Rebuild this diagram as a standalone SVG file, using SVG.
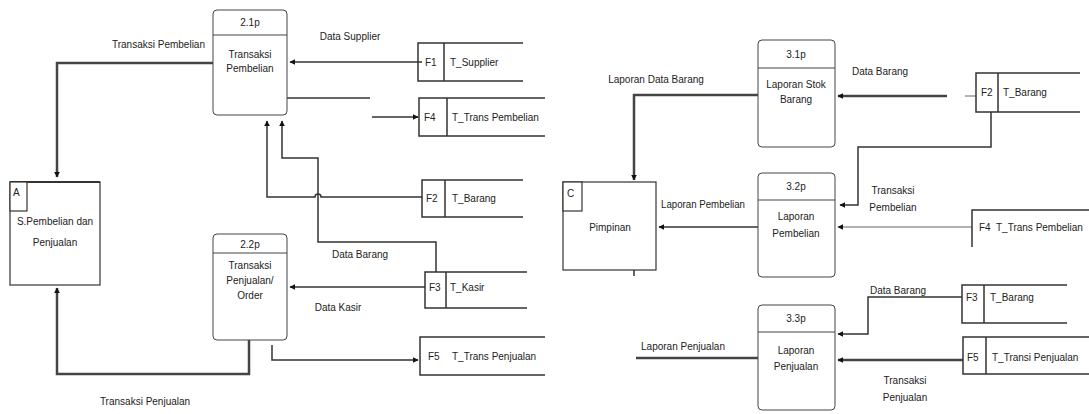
<svg xmlns="http://www.w3.org/2000/svg" width="1089" height="414" viewBox="0 0 1089 414">
<style>
text{font-family:"Liberation Sans",Arial,sans-serif;font-size:10px;fill:#222}
.m{text-anchor:middle}
.e{text-anchor:end}
.proc{fill:#fff;stroke:#444;stroke-width:1}
.hdr{stroke:#444;stroke-width:1.2}
.ent{fill:#fff;stroke:#333;stroke-width:1.2}
.st{stroke:#333;stroke-width:1.5;fill:none}
.c{fill:none;stroke:#333;stroke-width:1.5}
.ct{fill:none;stroke:#444;stroke-width:2.5}
.cf{fill:none;stroke:#666;stroke-width:1}
</style>
<defs>
<marker id="ah" viewBox="0 0 10 10" refX="9" refY="5" markerWidth="6" markerHeight="6" orient="auto" markerUnits="userSpaceOnUse">
<path d="M0,0L10,5L0,10z" fill="#111"/>
</marker>
</defs>

<g id="connectors">
<!-- left diagram -->
<path class="ct" d="M213,63H57V177" marker-end="url(#ah)"/>
<path class="c" d="M422,62H290" marker-end="url(#ah)"/>
<path class="c" d="M287,98H370"/>
<path class="c" d="M372,117H418" marker-end="url(#ah)"/>
<path class="c" d="M422,197H321A3,3 0 0 0 315,197H267V121" marker-end="url(#ah)"/>
<path class="c" d="M436,272V242H318V158H282V121" marker-end="url(#ah)"/>
<path class="c" d="M425,287H290" marker-end="url(#ah)"/>
<path class="ct" d="M249,340V374H57V288" marker-end="url(#ah)"/>
<path class="c" d="M272,345V360H418" marker-end="url(#ah)"/>
<!-- right diagram -->
<path class="ct" d="M758,95H634V180" marker-end="url(#ah)"/>
<path class="ct" d="M947,96H838" marker-end="url(#ah)"/>
<path class="cf" d="M965,96H976"/>
<path class="c" d="M991,112V147H858V205H840" marker-end="url(#ah)"/>
<path class="cf" d="M972,227H838" marker-end="url(#ah)"/>
<path class="c" d="M758,227H659" marker-end="url(#ah)"/>
<path class="ct" d="M758,358H636"/>
<path class="c" d="M962,297H868V334H838" marker-end="url(#ah)"/>
<path class="ct" d="M963,360H838" marker-end="url(#ah)"/>
<path class="c" d="M634,270V276"/>
</g>
<g id="labels">
<text x="205" y="48" class="e">Transaksi Pembelian</text>
<text x="350" y="40" class="m">Data Supplier</text>
<text x="360" y="258" class="m">Data Barang</text>
<text x="338" y="311" class="m">Data Kasir</text>
<text x="145" y="405" class="m">Transaksi Penjualan</text>
<text x="656" y="83" class="m">Laporan Data Barang</text>
<text x="880" y="75" class="m">Data Barang</text>
<text x="893" y="194" class="m">Transaksi</text>
<text x="893" y="211" class="m">Pembelian</text>
<text x="661" y="208" textLength="84" lengthAdjust="spacingAndGlyphs">Laporan Pembelian</text>
<text x="683" y="350" class="m">Laporan Penjualan</text>
<text x="898" y="294" class="m">Data Barang</text>
<text x="905" y="384" class="m">Transaksi</text>
<text x="905" y="401" class="m">Penjualan</text>
</g>

<g id="p21">
<rect class="proc" x="213" y="10" width="74" height="105" rx="4"/>
<line class="hdr" x1="213" y1="35" x2="287" y2="35"/>
<text x="250" y="26" class="m">2.1p</text>
<text x="250" y="58" class="m">Transaksi</text>
<text x="250" y="72" class="m">Pembelian</text>
</g>
<g id="p22">
<rect class="proc" x="213" y="234" width="74" height="106" rx="4"/>
<line class="hdr" x1="213" y1="253" x2="287" y2="253"/>
<text x="250" y="248" class="m">2.2p</text>
<text x="250" y="269" class="m">Transaksi</text>
<text x="250" y="284" class="m">Penjualan/</text>
<text x="250" y="299" class="m">Order</text>
</g>
<g id="entA">
<rect class="ent" x="10" y="182" width="90" height="103"/>
<line x1="10" y1="182" x2="100" y2="182" stroke="#333" stroke-width="2"/>
<rect class="ent" x="10" y="182" width="17" height="29"/>
<text x="13" y="196">A</text>
<text x="55" y="225" class="m">S.Pembelian dan</text>
<text x="55" y="246" class="m">Penjualan</text>
</g>
<g id="F1">
<path class="st" d="M523,43H418V81H523M444,43V81"/>
<text x="425" y="66">F1</text>
<text x="450" y="66">T_Supplier</text>
</g>
<g id="F4L">
<path class="st" d="M545,98H419V136H545M447,98V136"/>
<text x="424" y="121">F4</text>
<text x="452" y="121">T_Trans Pembelian</text>
</g>
<g id="F2L">
<path class="st" d="M523,180H422V217H523M445,180V217"/>
<text x="426" y="202">F2</text>
<text x="452" y="202">T_Barang</text>
</g>
<g id="F3L">
<path class="st" d="M527,272H425V308H527M446,272V308"/>
<text x="429" y="291">F3</text>
<text x="450" y="291">T_Kasir</text>
</g>
<g id="F5L">
<path class="st" d="M545,337H420V375H545"/>
<text x="428" y="360">F5</text>
<text x="452" y="360">T_Trans Penjualan</text>
</g>

<g id="p31">
<rect class="proc" x="758" y="40" width="77" height="107" rx="4"/>
<line class="hdr" x1="758" y1="68" x2="835" y2="68"/>
<text x="796" y="58" class="m">3.1p</text>
<text x="796" y="88" class="m">Laporan Stok</text>
<text x="796" y="103" class="m">Barang</text>
</g>
<g id="p32">
<rect class="proc" x="758" y="173" width="77" height="104" rx="4"/>
<line class="hdr" x1="758" y1="200" x2="835" y2="200"/>
<text x="796" y="190" class="m">3.2p</text>
<text x="796" y="220" class="m">Laporan</text>
<text x="796" y="237" class="m">Pembelian</text>
</g>
<g id="p33">
<rect class="proc" x="758" y="305" width="77" height="105" rx="4"/>
<line class="hdr" x1="758" y1="332" x2="835" y2="332"/>
<text x="796" y="322" class="m">3.3p</text>
<text x="796" y="354" class="m">Laporan</text>
<text x="796" y="370" class="m">Penjualan</text>
</g>
<g id="entC">
<rect class="ent" x="563" y="182" width="93" height="88"/>
<rect class="ent" x="563" y="182" width="19" height="29"/>
<text x="567" y="197">C</text>
<text x="610" y="231" class="m">Pimpinan</text>
</g>
<g id="F2R">
<path class="st" d="M1080,73H976V112H1080M998,73V112"/>
<text x="981" y="96">F2</text>
<text x="1003" y="96">T_Barang</text>
</g>
<g id="F4R">
<path class="st" d="M1089,210H972V247"/>
<text x="979" y="231">F4</text>
<text x="996" y="231">T_Trans Pembelian</text>
</g>
<g id="F3R">
<path class="st" d="M1067,285H962V323H1067M984,285V323"/>
<text x="966" y="301">F3</text>
<text x="990" y="301">T_Barang</text>
</g>
<g id="F5R">
<path class="st" d="M1089,337H963V374H1089M986,337V374"/>
<text x="967" y="361">F5</text>
<text x="992" y="361">T_Transi Penjualan</text>
</g>
</svg>
